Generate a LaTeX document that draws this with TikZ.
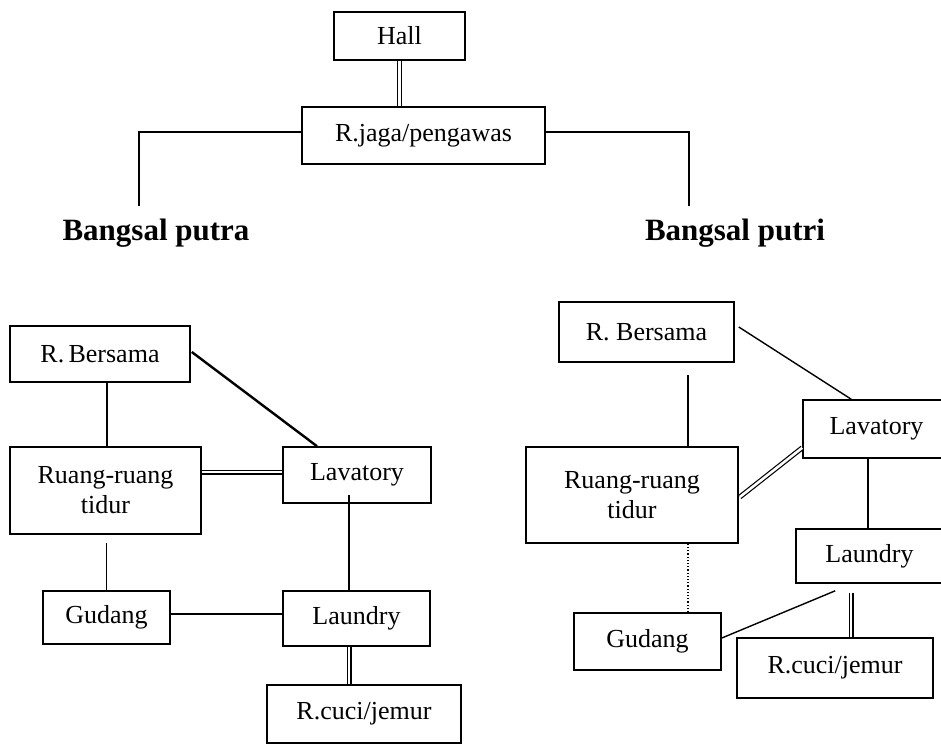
\documentclass[tikz,border=0pt]{standalone}
\usepackage{fontspec}
\setmainfont{Liberation Serif}
\usetikzlibrary{calc}
\begin{document}
\begin{tikzpicture}[x=1pt,y=-1pt,
  room/.style={draw, line width=1.6pt, inner sep=0pt, align=center,
    font=\fontsize{26}{30}\selectfont},
  wing/.style={inner sep=0pt, font=\bfseries\fontsize{31}{36}\selectfont},
  link/.style={line width=1.4pt},
  heavy/.style={line width=2.4pt},
  twin/.style={double, double distance=2.6pt, line width=1.2pt},
  dots/.style={line width=1.2pt, dotted}]
\useasboundingbox (0,0) rectangle (941,745);

% entrance and supervision
\node[room, minimum width=131pt, minimum height=48pt] (hall) at (399.5,36) {Hall};
\node[room, minimum width=243pt, minimum height=57pt] (jaga) at (423.5,135.5) {R.jaga/pengawas};
\node[wing, anchor=base] (putra) at (156,240) {Bangsal putra};
\node[wing, anchor=base] (putri) at (735,240) {Bangsal putri};
\coordinate (toputra) at (139,206);
\coordinate (toputri) at (689,206);

\draw[twin] (hall.south) -- (hall.south |- jaga.north);
\draw[link] ($(jaga.west)+(0,-3.5)$) -| (toputra);
\draw[link] ($(jaga.east)+(0,-3.5)$) -| (toputri);

% men's ward
\node[room, minimum width=180pt, minimum height=56pt] (lbers) at (100,354) {R.\,Bersama};
\node[room, minimum width=191pt, minimum height=87pt] (lruang) at (105.5,490.5) {Ruang-ruang\\tidur};
\node[room, minimum width=148pt, minimum height=56pt] (llav) at (357,475) {Lavatory};
\node[room, minimum width=127pt, minimum height=53pt] (lgud) at (106.5,617.5) {Gudang};
\node[room, minimum width=147pt, minimum height=55pt] (llau) at (356.5,618.5) {Laundry};
\node[room, minimum width=194pt, minimum height=58pt] (lcuci) at (364,714) {R.cuci/jemur};

\draw[link] ($(lbers.south)+(7,0)$) -- ($(lruang.north)+(1.5,0)$);
\draw[heavy] ($(lbers.east)+(1,-2)$) -- ($(llav.north)+(-40,0)$);
\draw[twin] ($(lruang.east)+(0,-18.5)$) -- ($(llav.west)+(0,-3)$);
\draw[link] ($(lruang.south -| lgud.north)+(0,8)$) -- (lgud.north);
\draw[link] ($(llav.south)+(-8,-9)$) -- ($(llau.north)+(-7.5,0)$);
\draw[link] ($(lgud.east)+(0,-3.5)$) -- ($(llau.west)+(0,-4.5)$);
\draw[twin] ($(llau.south)+(-7.5,0)$) -- ($(lcuci.north)+(-15,0)$);

% women's ward
\node[room, minimum width=175pt, minimum height=60pt] (rbers) at (646.5,332) {R. Bersama};
\node[room, minimum width=212pt, minimum height=96pt] (rruang) at (632,495) {Ruang-ruang\\tidur};
\node[room, minimum width=147pt, minimum height=58pt] (rlav) at (876.5,429) {Lavatory};
\node[room, minimum width=147pt, minimum height=54pt] (rlau) at (869.5,556) {Laundry};
\node[room, minimum width=147pt, minimum height=57pt] (rgud) at (647.5,641.5) {Gudang};
\node[room, minimum width=196pt, minimum height=60pt] (rcuci) at (835,668) {R.cuci/jemur};
\coordinate (laufoot) at ($(rlau.south west)+(40,7)$);

\draw[link] ($(rbers.east)+(4,-5)$) -- ($(rlav.north west)+(49,0)$);
\draw[link] ($(rbers.south)+(41.5,12)$) -- ($(rruang.north)+(56,0)$);
\draw[twin] ($(rruang.east)+(1,2)$) -- ($(rlav.south west)+(0,-11)$);
\draw[link] ($(rlav.south)+(-8.5,0)$) -- ($(rlau.north)+(-1.5,0)$);
\draw[dots] ($(rruang.south)+(56,0)$) -- ($(rgud.north)+(40.5,0)$);
\draw[link] ($(rgud.east)+(0,-3.5)$) -- (laufoot);
\draw[twin] ($(rlau.south)+(-18.5,9)$) -- ($(rcuci.north)+(16,0)$);
\end{tikzpicture}
\end{document}
